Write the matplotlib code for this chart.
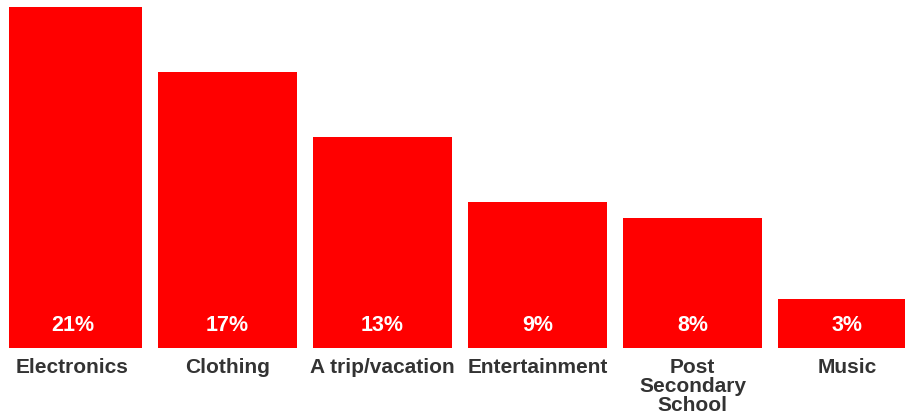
import matplotlib
matplotlib.use("Agg")
import matplotlib.pyplot as plt
from matplotlib.transforms import offset_copy

categories = ["Electronics", "Clothing", "A trip/vacation", "Entertainment",
              "Post\nSecondary\nSchool", "Music"]
shares = [21, 17, 13, 9, 8, 3]
value_labels = ["21%", "17%", "13%", "9%", "8%", "3%"]

plt.rcParams["font.family"] = ["Liberation Sans", "DejaVu Sans"]

fig = plt.figure(figsize=(9.05, 4.19), dpi=100)
ax = fig.add_axes([9 / 905, (419 - 347.7) / 419, (905 - 9) / 905, 340.7 / 419])

x = list(range(len(categories)))
ax.bar(x, shares, width=139 / 155, color="#ff0000")

ax.set_xlim((9 - 72.5) / 155, (905 - 72.5) / 155)
ax.set_ylim(0, 21)

ax.set_xticks(x)
ax.set_xticklabels(categories, fontsize=15, fontweight="bold", color="#333333")
for lbl in ax.get_xticklabels():
    lbl.set_linespacing(1.0)
ax.tick_params(axis="x", length=0, pad=7.5)
ax.set_yticks([])
for s in ax.spines.values():
    s.set_visible(False)

trans = offset_copy(ax.transData, fig=fig, x=0, y=22 * 72 / 100, units="points")
for xi, lab in zip(x, value_labels):
    ax.text(xi, 0, lab, transform=trans, ha="center", va="center",
            fontsize=15.5, fontweight="bold", color="white")

fig.savefig("out.png", dpi=100)
